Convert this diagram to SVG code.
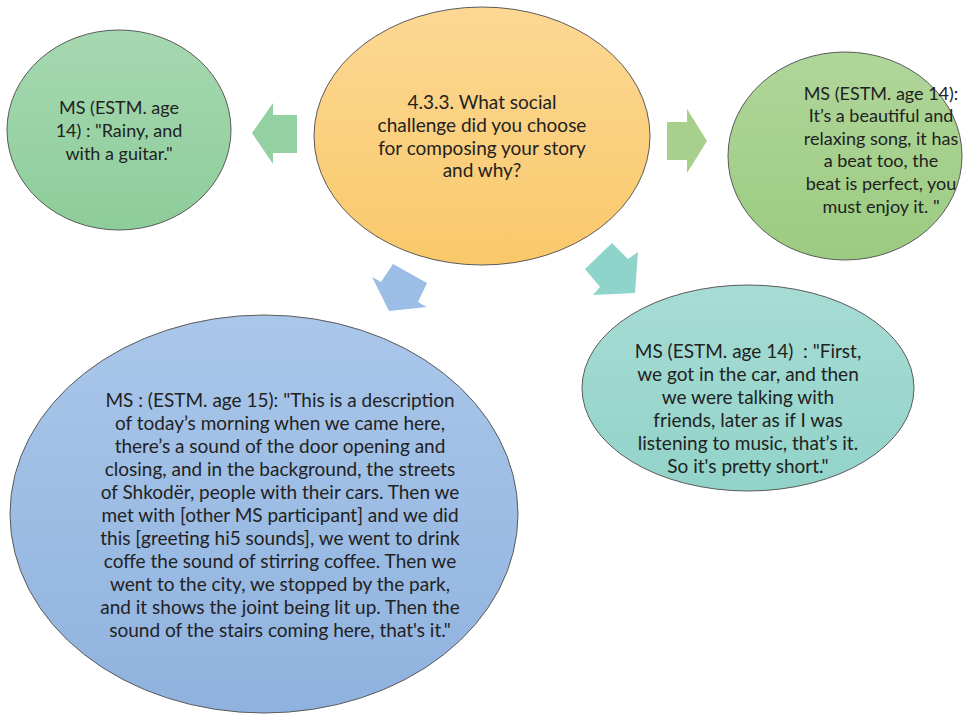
<svg xmlns="http://www.w3.org/2000/svg" width="964" height="715" viewBox="0 0 964 715">
<defs>
<linearGradient id="gGreen1" x1="0" y1="0" x2="0" y2="1"><stop offset="0" stop-color="#a6d8b0"/><stop offset="1" stop-color="#8dcd9a"/></linearGradient>
<linearGradient id="gOrange" x1="0" y1="0" x2="0" y2="1"><stop offset="0" stop-color="#fdd894"/><stop offset="1" stop-color="#f9c86a"/></linearGradient>
<linearGradient id="gGreen2" x1="0" y1="0" x2="0" y2="1"><stop offset="0" stop-color="#b0d69a"/><stop offset="1" stop-color="#9bcb80"/></linearGradient>
<linearGradient id="gBlue" x1="0" y1="0" x2="0" y2="1"><stop offset="0" stop-color="#aac7ea"/><stop offset="1" stop-color="#8fb2de"/></linearGradient>
<linearGradient id="gTeal" x1="0" y1="0" x2="0" y2="1"><stop offset="0" stop-color="#a6dcd4"/><stop offset="1" stop-color="#92d3c9"/></linearGradient>
</defs>
<style>
.node{stroke:#5a5a5a;stroke-width:1}
.t{font-family:Lato,"Liberation Sans",sans-serif;font-size:18px;fill:#222;text-anchor:middle}
.l{font-size:19px}
</style>
<rect width="964" height="715" fill="#ffffff"/>
<g id="connectors">
<polygon points="252,133 273,103 273,115 297,115 297,153 273,153 273,164" fill="#93d0a2"/>
<polygon points="667,122 687,122 687,109 707,141 687,173 687,160 667,160" fill="#a6d08c"/>
<polygon points="393,264 427,283 418,302 427,307 389,311 372,277 381,282" fill="#9bbde6"/>
<polygon points="612,243 628,259 638,252 635,293 593,295 600,287 585,269" fill="#8fd4ca"/>
</g>
<g id="node-left">
<ellipse class="node" cx="119" cy="130" rx="112" ry="100" fill="url(#gGreen1)"/>
<text class="t" x="119" y="114">MS (ESTM. age</text>
<text class="t" x="119" y="137">14) : "Rainy, and</text>
<text class="t" x="119" y="160">with a guitar."</text>
</g>
<g id="node-center">
<ellipse class="node" cx="482" cy="136" rx="168" ry="129" fill="url(#gOrange)"/>
<text class="t l" x="482" y="109">4.3.3. What social</text>
<text class="t l" x="482" y="132">challenge did you choose</text>
<text class="t l" x="482" y="155">for composing your story</text>
<text class="t l" x="482" y="177">and why?</text>
</g>
<g id="node-right">
<ellipse class="node" cx="845" cy="156" rx="117" ry="104" fill="url(#gGreen2)"/>
<text class="t" x="881" y="100">MS (ESTM. age 14):</text>
<text class="t" x="881" y="122">It’s a beautiful and</text>
<text class="t" x="881" y="145">relaxing song, it has</text>
<text class="t" x="881" y="167">a beat too, the</text>
<text class="t" x="881" y="190">beat is perfect, you</text>
<text class="t" x="881" y="213">must enjoy it. "</text>
</g>
<g id="node-bottom-left">
<ellipse class="node" cx="264" cy="514" rx="254" ry="199" fill="url(#gBlue)"/>
<text class="t l" x="280" y="407">MS : (ESTM. age 15): "This is a description</text>
<text class="t l" x="280" y="430">of today’s morning when we came here,</text>
<text class="t l" x="280" y="453">there’s a sound of the door opening and</text>
<text class="t l" x="280" y="476">closing, and in the background, the streets</text>
<text class="t l" x="280" y="499">of Shkodër, people with their cars. Then we</text>
<text class="t l" x="280" y="522">met with [other MS participant] and we did</text>
<text class="t l" x="280" y="545">this [greeting hi5 sounds], we went to drink</text>
<text class="t l" x="280" y="568">coffe the sound of stirring coffee. Then we</text>
<text class="t l" x="280" y="591">went to the city, we stopped by the park,</text>
<text class="t l" x="280" y="614">and it shows the joint being lit up. Then the</text>
<text class="t l" x="280" y="637">sound of the stairs coming here, that's it."</text>
</g>
<g id="node-bottom-right">
<ellipse class="node" cx="748" cy="388" rx="166" ry="103" fill="url(#gTeal)"/>
<text class="t l" x="748" y="358" xml:space="preserve">MS (ESTM. age 14)  : "First,</text>
<text class="t l" x="748" y="381">we got in the car, and then</text>
<text class="t l" x="748" y="404">we were talking with</text>
<text class="t l" x="748" y="427">friends, later as if I was</text>
<text class="t l" x="748" y="450">listening to music, that’s it.</text>
<text class="t l" x="748" y="473">So it's pretty short."</text>
</g>
</svg>
